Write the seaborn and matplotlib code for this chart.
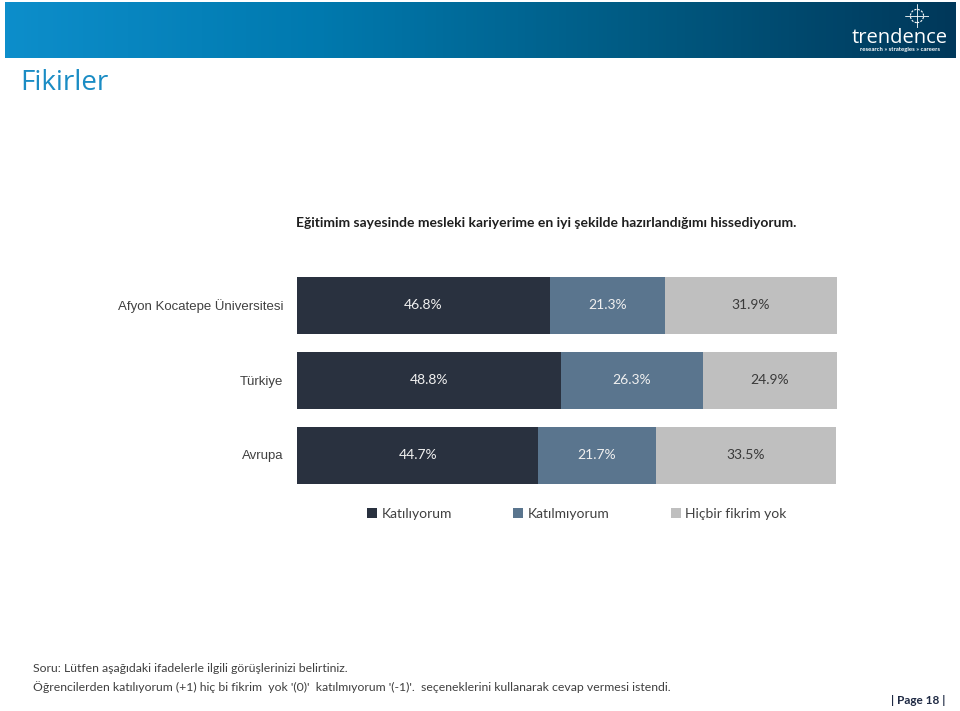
import numpy as np
import pandas as pd
import seaborn as sns
import matplotlib.pyplot as plt
from matplotlib.colors import LinearSegmentedColormap
from matplotlib.patches import Patch, Circle

# Data
categories = ['Afyon Kocatepe Üniversitesi', 'Türkiye', 'Avrupa']
katiliyorum = [46.8, 48.8, 44.7]
katilmiyorum = [21.3, 26.3, 21.7]
fikrim_yok = [31.9, 24.9, 33.5]
series_names = ['Katılıyorum', 'Katılmıyorum', 'Hiçbir fikrim yok']
colors = ['#29313f', '#5a758e', '#bfbfbf']
text_colors = ['#f0f0f0', '#f0f0f0', '#3a3a3a']

df = pd.DataFrame({'cat': categories, 'a': katiliyorum, 'b': katilmiyorum, 'c': fikrim_yok})
df['ab'] = df['a'] + df['b']
df['abc'] = df['ab'] + df['c']

sns.set_style('white')
plt.rcParams['font.family'] = ['Lato', 'DejaVu Sans']

fig = plt.figure(figsize=(9.6, 7.11), dpi=100)

# header band with gradient
hax = fig.add_axes([5 / 960, 1 - 58 / 711, 950 / 960, 56 / 711])
cmap = LinearSegmentedColormap.from_list('hdr', ['#0d8ecb', '#0079ae', '#005a82', '#00385a'])
hax.imshow(np.linspace(0, 1, 256).reshape(1, -1), aspect='auto', cmap=cmap, extent=[0, 1, 0, 1])
hax.set_xlim(0, 1)
hax.set_ylim(0, 1)
hax.axis('off')
fig.text(900 / 960, 1 - 38 / 711, 'trendence', color='white', fontsize=14.5, ha='center',
         va='center', family=['Open Sans', 'DejaVu Sans'])
fig.text(900 / 960, 1 - 50 / 711, 'research » strategies » careers', color='white',
         fontsize=4.3, ha='center', va='center', fontweight='bold')

# small crosshair icon of the logo
iax = fig.add_axes([905 / 960, 1 - 28 / 711, 24 / 960, 24 / 711])
iax.set_xlim(-1, 1)
iax.set_ylim(-1, 1)
iax.set_aspect('equal')
iax.axis('off')
iax.add_patch(Circle((0, 0), 0.55, fill=False, ec='white', lw=0.8, ls=(0, (2, 1.2))))
iax.plot([0, 0], [-1, 1], color='white', lw=0.6)
iax.plot([-1, 1], [0, 0], color='white', lw=0.6)

fig.text(20 / 960, 1 - 83 / 711, 'Fikirler', color='#1a8cc4', fontsize=20, va='center',
         family=['Open Sans', 'DejaVu Sans'])
fig.text(546 / 960, 1 - 223 / 711,
         'Eğitimim sayesinde mesleki kariyerime en iyi şekilde hazırlandığımı hissediyorum.',
         ha='center', va='center', fontsize=10, fontweight='bold', color='#1f1f1f')

# chart
ax = fig.add_axes([297 / 960, 1 - 492.5 / 711, 540 / 960, 225 / 711])
for col, c in zip(['abc', 'ab', 'a'], [colors[2], colors[1], colors[0]]):
    sns.barplot(data=df, x=col, y='cat', color=c, orient='h', width=0.76,
                saturation=1, ax=ax, linewidth=0)
ax.set_xlim(0, 100)
ax.set_xlabel('')
ax.set_ylabel('')
ax.set_xticks([])
sns.despine(ax=ax, left=True, bottom=True)
ax.tick_params(axis='y', length=0, pad=10, labelsize=9.5, labelcolor='#404040')
for lab in ax.get_yticklabels():
    lab.set_family(['Liberation Sans', 'DejaVu Sans'])

for i in range(len(categories)):
    starts = [0, katiliyorum[i], katiliyorum[i] + katilmiyorum[i]]
    vals = [katiliyorum[i], katilmiyorum[i], fikrim_yok[i]]
    for s, v, tc in zip(starts, vals, text_colors):
        ax.text(s + v / 2, i, f'{v:.1f}%', ha='center', va='center', color=tc, fontsize=10)

handles = [Patch(facecolor=c, edgecolor='none') for c in colors]
fig.legend(handles, series_names, loc='center', bbox_to_anchor=(577 / 960, 1 - 514 / 711),
           ncol=3, frameon=False, fontsize=10, handlelength=0.7, handleheight=0.7,
           handletextpad=0.35, columnspacing=4.4, labelcolor='#404040')

# footer
fig.text(33 / 960, 1 - 668 / 711, 'Soru: Lütfen aşağıdaki ifadelerle ilgili görüşlerinizi belirtiniz.',
         fontsize=8.8, color='#404040', va='center')
fig.text(33 / 960, 1 - 687 / 711,
         "Öğrencilerden katılıyorum (+1) hiç bi fikrim  yok '(0)'  katılmıyorum '(-1)'.  seçeneklerini kullanarak cevap vermesi istendi.",
         fontsize=8.8, color='#404040', va='center')
fig.text(945 / 960, 1 - 700 / 711, '| Page 18 |', fontsize=8.5, color='#1f2a44',
         fontweight='bold', ha='right', va='center')

fig.savefig('out.png', dpi=100)
